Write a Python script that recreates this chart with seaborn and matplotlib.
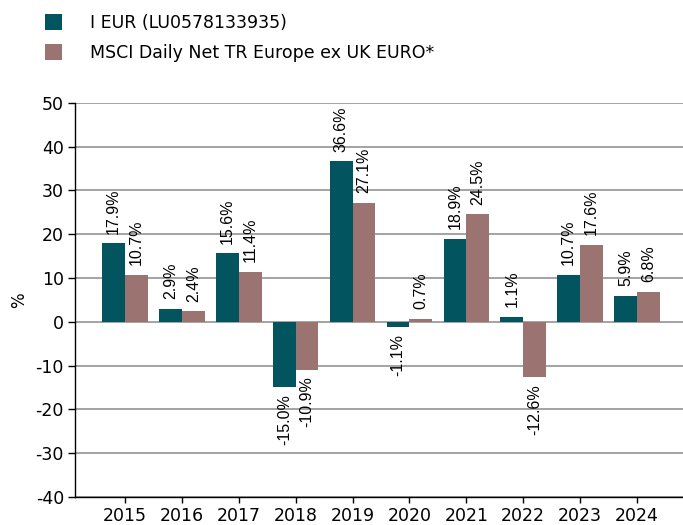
import pandas as pd
import seaborn as sns
import matplotlib.pyplot as plt
from matplotlib.patches import Patch

# Datos
years = ['2015', '2016', '2017', '2018', '2019', '2020', '2021', '2022', '2023', '2024']
fund = [17.9, 2.9, 15.6, -15.0, 36.6, -1.1, 18.9, 1.1, 10.7, 5.9]
index = [10.7, 2.4, 11.4, -10.9, 27.1, 0.7, 24.5, -12.6, 17.6, 6.8]
series_names = ['I EUR (LU0578133935)', 'MSCI Daily Net TR Europe ex UK EURO*']
colors = ['#02555F', '#9B7370']

df = pd.DataFrame({
    'year': years * 2,
    'value': fund + index,
    'series': [series_names[0]] * len(years) + [series_names[1]] * len(years),
})

sns.set_style('white')
plt.rcParams['font.family'] = ['DejaVu Sans']
plt.rcParams['axes.unicode_minus'] = False
plt.rcParams['text.color'] = 'black'
plt.rcParams['xtick.color'] = 'black'
plt.rcParams['ytick.color'] = 'black'
plt.rcParams['axes.labelcolor'] = 'black'

fig = plt.figure(figsize=(6.83, 5.25), dpi=100)
ax = fig.add_axes([75 / 683, 28 / 525, 1 - 75 / 683, (497 - 102.7) / 525])

sns.barplot(data=df, x='year', y='value', hue='series', palette=colors,
            width=0.8, saturation=1, ax=ax, legend=False, linewidth=0)

ax.set_ylim(-40, 50)
ax.set_yticks(range(-40, 51, 10))
ax.set_xlim(-0.88, 9.81)
ax.yaxis.grid(True, color='#8a8a8a', linewidth=1.1)
ax.set_axisbelow(True)

for side in ['top', 'right']:
    ax.spines[side].set_visible(False)
ax.spines['left'].set_color('black')
ax.spines['bottom'].set_color('black')
ax.spines['left'].set_linewidth(1.0)
ax.spines['bottom'].set_linewidth(1.0)
ax.tick_params(axis='y', left=True, length=5, width=1, labelsize=12.5, pad=3)
ax.tick_params(axis='x', bottom=True, length=4, width=1, labelsize=12.5, pad=3)
ax.set_xlabel('')
ax.set_ylabel('%', fontsize=12, labelpad=5)

# Etiquetas de valores rotadas
for container in ax.containers:
    for bar in container:
        h = bar.get_height()
        xc = bar.get_x() + bar.get_width() / 2
        if h >= 0:
            ax.annotate(f'{h:.1f}%', (xc, h), xytext=(0, 7), textcoords='offset points',
                        rotation=90, ha='center', va='bottom', fontsize=11.5,
                        family='Liberation Sans')
        else:
            ax.annotate(f'{h:.1f}%', (xc, h), xytext=(0, -5), textcoords='offset points',
                        rotation=90, ha='center', va='top', fontsize=11.5,
                        family='Liberation Sans')

handles = [Patch(facecolor=c, edgecolor='none') for c in colors]
fig.legend(handles, series_names, loc='upper left', bbox_to_anchor=(45 / 683, 1 - 14 / 525),
           frameon=False, fontsize=12.5, handlelength=1.0, handleheight=1.0,
           handletextpad=1.6, labelspacing=0.7, borderpad=0, borderaxespad=0)

fig.savefig('out.png', dpi=100)
